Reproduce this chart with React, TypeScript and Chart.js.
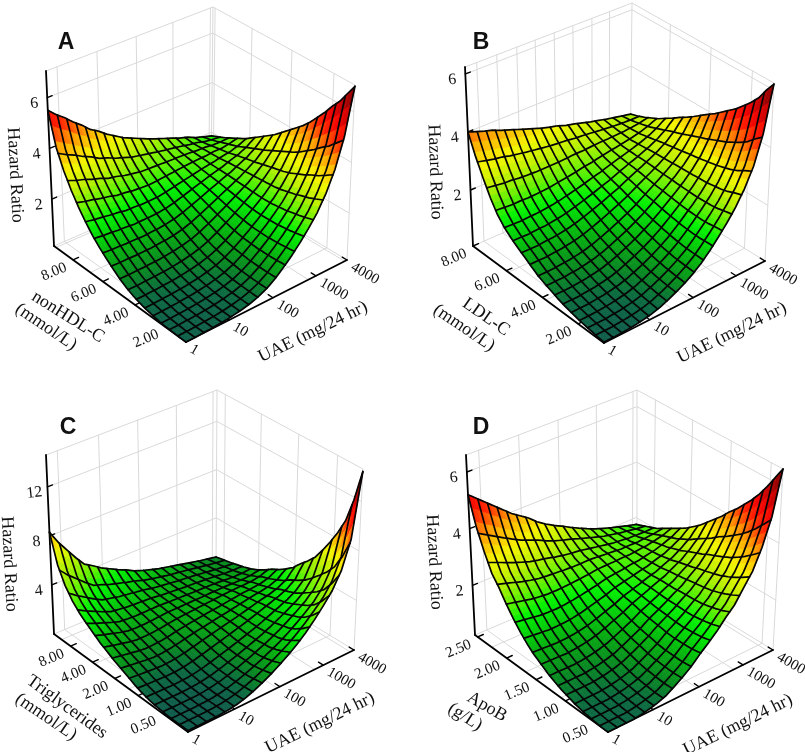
import React, { useEffect, useRef } from "react";
import { Chart, registerables } from "chart.js";

Chart.register(...registerables);

// ---- data: Hazard Ratio along the four edges of each surface ----
const uaeTickLabels = ["1", "10", "100", "1000", "4000"];

const aUaeFront = [.15,.15,.16,.17,.19,.21,.25,.30,.37,.47,.62,.83,1.1,1.4,1.75,2.15,2.6,3.2,4.0,5.15,7.0];
const aLipidFront = [.15,.15,.16,.17,.19,.23,.28,.35,.44,.56,.72,.92,1.13,1.37,1.65,2.0,2.4,2.87,3.45,4.2,5.5];
const aUaeBack = [5.5,5.2,4.95,4.65,4.4,4.1,3.9,3.65,3.45,3.25,3.1,2.95,2.8,2.67,2.55,2.43,2.3,2.2,2.05,1.95,1.85];
const aLipidBack = [7.0,6.55,6.1,5.75,5.35,5.0,4.65,4.35,4.1,3.85,3.6,3.35,3.15,2.95,2.75,2.55,2.4,2.25,2.1,1.97,1.85];

const bUaeFront = [.1,.1,.1,.12,.14,.18,.23,.31,.42,.55,.7,.88,1.1,1.38,1.7,2.05,2.45,2.95,3.6,4.6,6.2];
const bLipidFront = [.1,.12,.15,.18,.22,.27,.33,.4,.49,.58,.68,.82,.98,1.13,1.3,1.5,1.78,2.2,2.72,3.3,4.0];
const bUaeBack = [4.0,3.9,3.8,3.72,3.6,3.5,3.4,3.3,3.2,3.1,3.02,2.95,2.85,2.78,2.7,2.62,2.55,2.48,2.42,2.36,2.3];
const bLipidBack = [6.2,5.85,5.45,5.15,4.9,4.65,4.45,4.25,4.05,3.88,3.7,3.52,3.35,3.2,3.03,2.88,2.72,2.6,2.48,2.38,2.3];

const cUaeFront = [.1,.1,.1,.1,.12,.17,.28,.45,.7,1.0,1.35,1.75,2.2,2.7,3.3,4.0,4.8,5.7,7.0,9.2,14.4];
const cLipidFront = [.1,.1,.1,.1,.15,.2,.3,.45,.65,.9,1.15,1.4,1.7,2.0,2.4,2.8,3.25,3.85,4.7,6.0,8.3];
const cUaeBack = [8.3,7.2,6.3,5.4,4.6,4.2,3.75,3.4,3.05,2.75,2.4,2.15,1.95,1.75,1.6,1.45,1.3,1.15,1.0,.88,.75];
const cLipidBack = [14.4,11.8,9.8,8.5,7.4,6.4,5.5,4.85,4.3,3.65,3.2,2.8,2.5,2.1,1.75,1.5,1.3,1.15,1.0,.88,.75];

const dUaeFront = [.25,.25,.25,.25,.28,.33,.4,.5,.67,.86,1.07,1.35,1.6,1.87,2.2,2.5,2.95,3.4,4.1,5.05,6.6];
const dLipidFront = [.25,.25,.27,.3,.33,.38,.46,.53,.63,.75,.9,1.05,1.25,1.5,1.8,2.15,2.55,2.9,3.5,4.2,5.2];
const dUaeBack = [5.2,4.95,4.7,4.45,4.2,3.95,3.75,3.55,3.3,3.1,2.93,2.78,2.62,2.47,2.33,2.2,2.1,2.0,1.92,1.83,1.75];
const dLipidBack = [6.6,6.15,5.7,5.3,4.95,4.65,4.35,4.1,3.8,3.55,3.3,3.05,2.85,2.65,2.5,2.35,2.2,2.05,1.95,1.85,1.75];

const aLipidLabels = ["2.00", "4.00", "6.00", "8.00"];
const bLipidLabels = ["2.00", "4.00", "6.00", "8.00"];
const cLipidLabels = ["0.50", "1.00", "2.00", "4.00", "8.00"];
const dLipidLabels = ["0.50", "1.00", "1.50", "2.00", "2.50"];

const PANELS = [
  {
    letter: "A", letterAt: [66, 43], x0: 0, y0: 0, zBottom: .15, zTop: 7.05, lowBoost: 0,
    uf: aUaeFront, lf: aLipidFront, ub: aUaeBack, lb: aLipidBack,
    F: [186, 342], R: [347, 260], L: [54, 246], B: [211, 178],
    F2: [187, 147], R2: [355, 85], L2: [46, 71], B2: [213, 7],
    zTicks: [2, 4, 6], uaePos: [0, .267, .54, .807, 1], lipidPos: [.159, .386, .63, .856], lipidLabels: aLipidLabels,
    wallU: [.066, .305, .54, .76, .985], wallV: [.148, .444, .725, .985],
    titles: [["Hazard Ratio", 15, 175, 87], ["nonHDL-C", 68, 317, 32], ["(mmol/L)", 46, 327, 34], ["UAE (mg/24 hr)", 313, 332, -26]],
  },
  {
    letter: "B", letterAt: [481, 43], x0: 402, y0: 0, zBottom: .07, zTop: 6.24, lowBoost: 0,
    uf: bUaeFront, lf: bLipidFront, ub: bUaeBack, lb: bLipidBack,
    F: [604, 343], R: [765, 261], L: [473, 246], B: [630, 177],
    F2: [605, 145], R2: [774, 83], L2: [465, 67], B2: [632, 3],
    zTicks: [2, 4, 6], uaePos: [0, .284, .554, .82, 1], lipidPos: [.198, .47, .745, 1], lipidLabels: bLipidLabels,
    wallU: [.07, .19, .31, .42, .534, .646, .76, .866], wallV: [.152, .443, .73],
    titles: [["Hazard Ratio", 435, 172, 88], ["LDL-C", 486, 317, 35], ["(mmol/L)", 464, 328, 34], ["UAE (mg/24 hr)", 732, 333, -26]],
  },
  {
    letter: "C", letterAt: [68, 428], x0: 0, y0: 376, zBottom: 0, zTop: 14.6, lowBoost: .55,
    uf: cUaeFront, lf: cLipidFront, ub: cUaeBack, lb: cLipidBack,
    F: [188, 732], R: [354, 650], L: [54, 634], B: [216, 566],
    F2: [189, 536], R2: [363, 469], L2: [46, 455], B2: [217, 390],
    zTicks: [4, 8, 12], uaePos: [0, .28, .553, .815, 1], lipidPos: [.19, .372, .546, .712, .876], lipidLabels: cLipidLabels,
    wallU: [.066, .307, .536, .762, .977], wallV: [.174, .44, .696, .943],
    titles: [["Hazard Ratio", 9, 564, 87], ["Triglycerides", 67, 707, 36], ["(mmol/L)", 46, 717, 34], ["UAE (mg/24 hr)", 320, 723, -26]],
  },
  {
    letter: "D", letterAt: [481, 428], x0: 402, y0: 376, zBottom: .25, zTop: 6.6, lowBoost: 0,
    uf: dUaeFront, lf: dLipidFront, ub: dUaeBack, lb: dLipidBack,
    F: [608, 732], R: [773, 650], L: [475, 635], B: [636, 566],
    F2: [609, 535], R2: [783, 469], L2: [466, 455], B2: [637, 390],
    zTicks: [2, 4, 6], uaePos: [0, .273, .552, .818, 1], lipidPos: [.1, .32, .54, .7625, .98], lipidLabels: dLipidLabels,
    wallU: [.074, .308, .538, .762, .977], wallV: [.08, .354, .619, .874],
    titles: [["Hazard Ratio", 434, 562, 87], ["ApoB", 487, 707, 30], ["(g/L)", 465, 717, 33], ["UAE (mg/24 hr)", 738, 725, -26]],
  },
];

const COLOR_STOPS: [number, number[]][] = [
  [0, [16, 88, 79]], [.05, [11, 106, 64]], [.1, [8, 138, 32]], [.16, [6, 173, 16]], [.26, [0, 240, 0]], [.32, [96, 240, 0]],
  [.4, [192, 240, 0]], [.48, [245, 245, 0]], [.59, [255, 160, 0]], [.64, [255, 96, 0]], [.7, [255, 32, 0]], [.78, [240, 0, 0]], [1, [112, 0, 0]],
];
const CELLS_U = 18;
const CELLS_V = 16;
const SUB = 3;
const W = 403;
const H = 376;
const SERIF = '"Liberation Serif"';
const LOG_OFFSET = 0.3;

const mix = (a: number, b: number, t: number) => a + (b - a) * t;
const colorFor = (f: number) => {
  const t = Math.min(1, Math.max(0, f));
  for (let i = 1; i < COLOR_STOPS.length; i++) {
    if (t <= COLOR_STOPS[i][0]) {
      const [a, ca] = COLOR_STOPS[i - 1];
      const [b, cb] = COLOR_STOPS[i];
      const k = (t - a) / (b - a);
      return `rgb(${Math.round(mix(ca[0], cb[0], k))},${Math.round(mix(ca[1], cb[1], k))},${Math.round(mix(ca[2], cb[2], k))})`;
    }
  }
  return "rgb(112,0,0)";
};
const edge = (arr: number[], t: number) => {
  const p = Math.min(arr.length - 1.000001, t * (arr.length - 1));
  const i = Math.floor(p);
  return Math.log(mix(arr[i], arr[i + 1], p - i) + LOG_OFFSET);
};

function buildDatasets(p: any) {
  const proj = (u: number, v: number, w: number) => {
    const corner = (a: number[], b: number[], c: number[], d: number[], k: number) =>
      mix(mix(a[k], b[k], u), mix(c[k], d[k], u), v);
    return {
      x: mix(corner(p.F, p.R, p.L, p.B, 0), corner(p.F2, p.R2, p.L2, p.B2, 0), w),
      y: mix(corner(p.F, p.R, p.L, p.B, 1), corner(p.F2, p.R2, p.L2, p.B2, 1), w),
    };
  };
  const zw = (z: number) => (z - p.zBottom) / (p.zTop - p.zBottom);
  const hr = (u: number, v: number) => {
    const f = edge(p.uf, 0), r = edge(p.uf, 1), l = edge(p.lf, 1), b = edge(p.ub, 1);
    const coons =
      (1 - v) * edge(p.uf, u) + v * edge(p.ub, u) + (1 - u) * edge(p.lf, v) + u * edge(p.lb, v) -
      ((1 - u) * (1 - v) * f + u * (1 - v) * r + (1 - u) * v * l + u * v * b);
    return Math.max(p.zBottom, Math.exp(coons) - LOG_OFFSET);
  };
  const surf = (u: number, v: number) => proj(u, v, zw(hr(u, v)));
  const line = (data: any[], color: string, width: number) => ({
    data, borderColor: color, borderWidth: width, pointRadius: 0, tension: 0, fill: false, clip: false, borderCapStyle: "round",
  });

  const top: any[] = [];
  const FINE = 40;
  // mesh lines
  for (let i = 0; i <= CELLS_U; i++) {
    const a: any[] = [];
    for (let j = 0; j <= FINE; j++) a.push(surf(i / CELLS_U, j / FINE));
    top.push(line(a, "#050505", 1.7));
  }
  for (let j = 0; j <= CELLS_V; j++) {
    const b: any[] = [];
    for (let i = 0; i <= FINE; i++) b.push(surf(i / FINE, j / CELLS_V));
    top.push(line(b, "#050505", 1.7));
  }
  // surface cells, nearest first (first dataset is painted last)
  const nu = CELLS_U * SUB, nv = CELLS_V * SUB;
  const cells: any[] = [];
  for (let s = 0; s <= nu + nv - 2; s++) {
    for (let i = Math.max(0, s - nv + 1); i <= Math.min(nu - 1, s); i++) {
      const j = s - i;
      const u0 = i / nu, u1 = (i + 1) / nu, v0 = j / nv, v1 = (j + 1) / nv;
      const f = hr((u0 + u1) / 2, (v0 + v1) / 2) / p.zTop;
      const c = colorFor(f + p.lowBoost * f * Math.max(0, 1 - f / 0.4));
      cells.push({
        data: [surf(u0, v0), surf(u1, v0), surf(u1, v1), surf(u0, v1)],
        cellColor: c, showLine: false, pointRadius: 0, borderWidth: 0, fill: false, clip: false,
      });
    }
  }
  // axes, ticks
  const axes: any[] = [
    line([proj(0, 0, 0), proj(1, 0, 0)], "#000", 1.8),
    line([proj(0, 0, 0), proj(0, 1, 0)], "#000", 1.8),
    line([proj(0, 1, 0), proj(0, 1, 1)], "#000", 1.8),
  ];
  p.zTicks.forEach((z: number) => axes.push(line([proj(0, 1, zw(z)), proj(.03, 1, zw(z))], "#000", 1.4)));
  p.uaePos.slice(1).forEach((u: number) => axes.push(line([proj(u, 0, 0), proj(u, .035, 0)], "#000", 1.4)));
  p.lipidPos.forEach((v: number) => axes.push(line([proj(0, v, 0), proj(.035, v, 0)], "#000", 1.4)));
  // walls and floor
  const G = "#d9d9d9";
  const walls: any[] = [
    line([proj(0, 1, 1), proj(1, 1, 1), proj(1, 0, 1), proj(1, 0, 0)], G, 1),
    line([proj(0, 1, 0), proj(1, 1, 0), proj(1, 0, 0)], G, 1),
    line([proj(1, 1, 0), proj(1, 1, 1)], G, 1),
  ];
  p.zTicks.forEach((z: number) => walls.push(line([proj(0, 1, zw(z)), proj(1, 1, zw(z)), proj(1, 0, zw(z))], G, 1)));
  p.wallU.forEach((u: number) => {
    walls.push(line([proj(u, 1, 0), proj(u, 1, 1)], G, 1));
    walls.push(line([proj(u, 0, 0), proj(u, 1, 0)], G, 1));
  });
  p.wallV.forEach((v: number) => {
    walls.push(line([proj(1, v, 0), proj(1, v, 1)], G, 1));
    walls.push(line([proj(0, v, 0), proj(1, v, 0)], G, 1));
  });
  return { datasets: [...top, ...cells, ...axes, ...walls], proj, zw };
}

const textPlugin = (p: any, proj: any, zw: any) => ({
  id: "panelText",
  afterDraw(chart: any) {
    const { ctx, scales } = chart;
    const X = (v: number) => scales.x.getPixelForValue(v);
    const Y = (v: number) => scales.y.getPixelForValue(v);
    const put = (s: string, x: number, y: number, deg: number, font: string, align: CanvasTextAlign) => {
      ctx.save();
      ctx.translate(X(x), Y(y));
      ctx.rotate((deg * Math.PI) / 180);
      ctx.font = font;
      ctx.fillStyle = "#111";
      ctx.textAlign = align;
      ctx.textBaseline = "middle";
      ctx.fillText(s, 0, 0);
      ctx.restore();
    };
    put(p.letter, p.letterAt[0], p.letterAt[1], 0, 'bold 23px "Liberation Sans"', "center");
    p.titles.forEach((t: any) => put(t[0], t[1], t[2], t[3], `18px ${SERIF}`, "center"));
    p.zTicks.forEach((z: number) => {
      const a = proj(0, 1, zw(z));
      put(String(z), a.x - 13, a.y + 6, -6, `16px ${SERIF}`, "center");
    });
    uaeTickLabels.forEach((s, i) => {
      const a = proj(p.uaePos[i], 0, 0);
      put(s, a.x + 5, a.y + 6, 30, `15px ${SERIF}`, "left");
    });
    p.lipidLabels.forEach((s: string, i: number) => {
      const a = proj(0, p.lipidPos[i], 0);
      put(s, a.x - 7, a.y + 7, -23, `15px ${SERIF}`, "right");
    });
  },
});

const fillCells = {
  id: "fillCells",
  beforeDatasetDraw(chart: any, args: any) {
    const ds = chart.data.datasets[args.index];
    if (!ds.cellColor) return;
    const pts = args.meta.data;
    const ctx = chart.ctx;
    ctx.save();
    ctx.beginPath();
    pts.forEach((pt: any, i: number) => (i ? ctx.lineTo(pt.x, pt.y) : ctx.moveTo(pt.x, pt.y)));
    ctx.closePath();
    ctx.fillStyle = ds.cellColor;
    ctx.strokeStyle = ds.cellColor;
    ctx.lineWidth = 0.7;
    ctx.fill();
    ctx.stroke();
    ctx.restore();
  },
};

function Panel({ p }: { p: any }) {
  const ref = useRef<HTMLCanvasElement>(null);
  useEffect(() => {
    const { datasets, proj, zw } = buildDatasets(p);
    const chart = new Chart(ref.current as any, {
      type: "line",
      data: { datasets },
      options: {
        responsive: false,
        animation: false,
        events: [],
        layout: { padding: 0 },
        plugins: { legend: { display: false }, tooltip: { enabled: false }, title: { display: false } },
        scales: {
          x: { type: "linear", display: false, min: p.x0, max: p.x0 + W },
          y: { type: "linear", display: false, min: p.y0, max: p.y0 + H, reverse: true },
        },
      },
      plugins: [fillCells, textPlugin(p, proj, zw)],
    } as any);
    return () => chart.destroy();
  }, [p]);
  return (
    <canvas
      ref={ref}
      width={W}
      height={H}
      style={{ position: "absolute", left: p.x0, top: p.y0, width: W, height: H }}
    />
  );
}

export default function App() {
  return (
    <div style={{ position: "absolute", left: 0, top: 0, width: 805, height: 752, background: "#fff", overflow: "hidden" }}>
      {PANELS.map((p) => (
        <Panel key={p.letter} p={p} />
      ))}
    </div>
  );
}
